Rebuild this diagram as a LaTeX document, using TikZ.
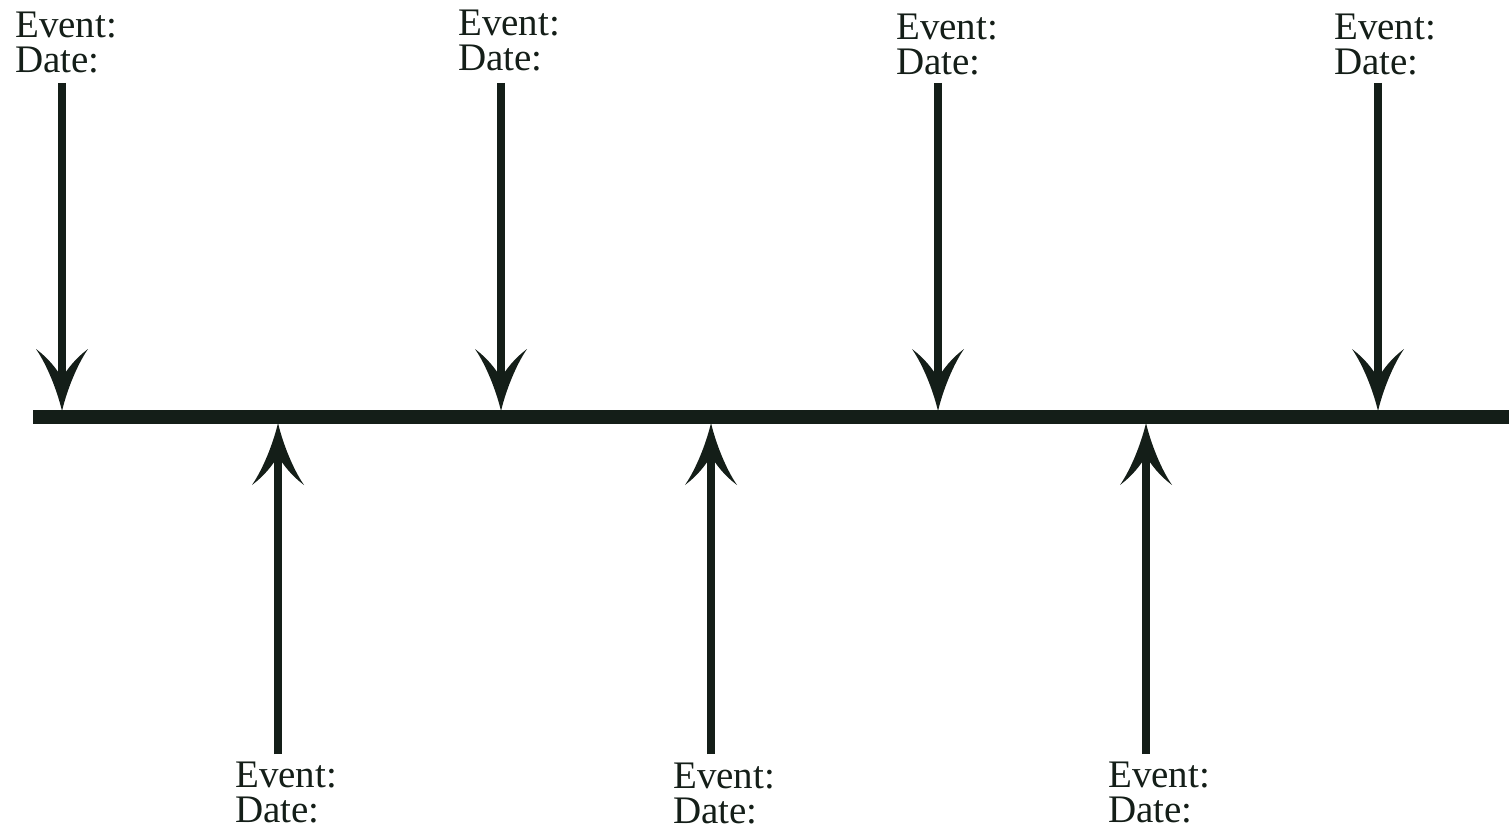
\documentclass[tikz,border=0pt]{standalone}
\usepackage{fontspec}
\setmainfont{Liberation Serif}
\definecolor{ink}{RGB}{20,30,24}
\tikzset{
  lbl/.style={anchor=base west,inner sep=0pt,align=left,text=ink,
    font=\fontsize{39}{35}\selectfont},
  shaft/.style={draw=ink,line width=8pt},
  bar/.style={draw=ink,line width=14pt},
  barbhead/.pic={\fill[ink] (0pt,0pt) .. controls (-5pt,21pt) and (-15pt,46pt) .. (-26pt,62pt)
     .. controls (-14pt,53pt) and (-6pt,43pt) .. (0pt,33pt)
     .. controls (6pt,43pt) and (14pt,53pt) .. (26pt,62pt)
     .. controls (15pt,46pt) and (5pt,21pt) .. (0pt,0pt) -- cycle;}
}
\begin{document}
\begin{tikzpicture}[x=1pt,y=-1pt]
\useasboundingbox (0,0) rectangle (1509,829);
% timeline
\coordinate (L) at (33,417);
\coordinate (R) at (1509,417);
\draw[bar] (L) -- (R);
% top labels (anchored at the baseline of "Date:")
\node[lbl] (e1) at (15,73) {Event:\\Date:};
\node[lbl] (e2) at (458,71) {Event:\\Date:};
\node[lbl] (e3) at (896,75) {Event:\\Date:};
\node[lbl] (e4) at (1334,75) {Event:\\Date:};
% bottom labels
\node[lbl] (b1) at (235,822) {Event:\\Date:};
\node[lbl] (b2) at (673,823) {Event:\\Date:};
\node[lbl] (b3) at (1108,822) {Event:\\Date:};
% downward arrows
\foreach \i/\x in {1/62,2/501,3/938,4/1378}{
  \coordinate (s\i) at (\x,83);
  \coordinate (m\i) at (\x,385);
  \coordinate (t\i) at (\x,411);
  \draw[shaft] (s\i) -- (m\i);
  \pic at (t\i) {barbhead};
}
% upward arrows
\foreach \i/\x in {5/278,6/711,7/1146}{
  \coordinate (s\i) at (\x,754);
  \coordinate (m\i) at (\x,450);
  \coordinate (t\i) at (\x,423);
  \draw[shaft] (s\i) -- (m\i);
  \pic[rotate=180] at (t\i) {barbhead};
}
\end{tikzpicture}
\end{document}
